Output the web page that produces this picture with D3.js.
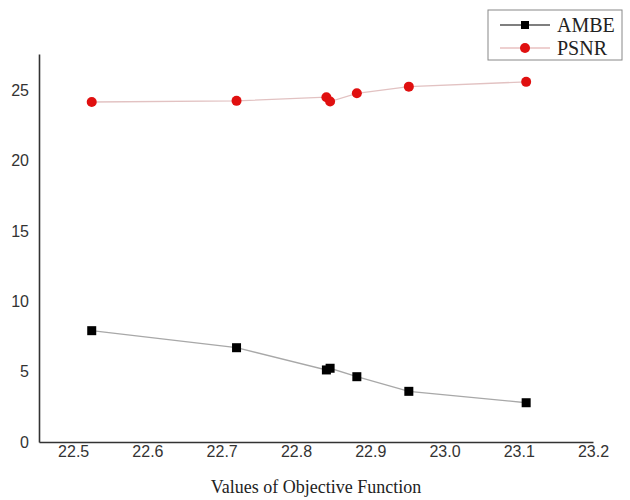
<!DOCTYPE html>
<html>
<head>
<meta charset="utf-8">
<script src="https://cdn.jsdelivr.net/npm/d3@7"></script>
<style>
  html, body { margin: 0; padding: 0; background: #fff; }
  svg { display: block; }
</style>
</head>
<body>
<svg id="chart" width="630" height="500"></svg>
<script>
// Objective function values (x) and the two quality measures
const objective = [22.525, 22.720, 22.841, 22.846, 22.882, 22.952, 23.110];
const ambe      = [7.91, 6.70, 5.12, 5.24, 4.64, 3.60, 2.79];
const psnr      = [24.16, 24.24, 24.50, 24.19, 24.78, 25.25, 25.59];
const xTicks    = [22.5, 22.6, 22.7, 22.8, 22.9, 23.0, 23.1, 23.2];
const yTicks    = [0, 5, 10, 15, 20, 25];
const seriesNames = ["AMBE", "PSNR"];

const svg = d3.select("#chart");
const x = d3.scaleLinear().domain([22.454, 23.2]).range([39, 593]);
const y = d3.scaleLinear().domain([0, 27.57]).range([442, 54]);

// Axes: plain lines, no tick marks
const xAxis = svg.append("g")
  .attr("transform", `translate(0,${y(0)})`)
  .call(d3.axisBottom(x).tickValues(xTicks).tickFormat(d3.format(".1f")).tickSize(0).tickPadding(4));
const yAxis = svg.append("g")
  .attr("transform", `translate(${x.range()[0]},0)`)
  .call(d3.axisLeft(y).tickValues(yTicks).tickSize(0).tickPadding(10));

[xAxis, yAxis].forEach(g => {
  g.select(".domain").attr("stroke", "#333").attr("stroke-width", 1.6);
  g.selectAll("text")
    .attr("fill", "#333")
    .style("font-family", "'Liberation Sans', Arial, sans-serif")
    .style("font-size", "16px");
});

// Axis title
svg.append("text")
  .attr("x", 316).attr("y", 493)
  .attr("text-anchor", "middle")
  .attr("fill", "#222")
  .style("font-family", "'Liberation Serif', 'Times New Roman', serif")
  .style("font-size", "18px")
  .text("Values of Objective Function");

const line = d3.line().x(d => x(d[0])).y(d => y(d[1]));

// AMBE series: grey line with black squares
const ambePts = objective.map((v, i) => [v, ambe[i]]);
svg.append("path").datum(ambePts)
  .attr("d", line).attr("fill", "none")
  .attr("stroke", "#a8a8a8").attr("stroke-width", 1.3);
svg.selectAll(".sq").data(ambePts).enter().append("rect")
  .attr("x", d => x(d[0]) - 4.5).attr("y", d => y(d[1]) - 4.5)
  .attr("width", 9).attr("height", 9).attr("fill", "#000");

// PSNR series: pale red line with red dots
const psnrPts = objective.map((v, i) => [v, psnr[i]]);
svg.append("path").datum(psnrPts)
  .attr("d", line).attr("fill", "none")
  .attr("stroke", "#e2c2c2").attr("stroke-width", 1.3);
svg.selectAll(".dot").data(psnrPts).enter().append("circle")
  .attr("cx", d => x(d[0])).attr("cy", d => y(d[1]))
  .attr("r", 5).attr("fill", "#e01010");

// Legend
const legend = svg.append("g");
legend.append("rect")
  .attr("x", 488).attr("y", 10).attr("width", 134).attr("height", 50)
  .attr("fill", "#fff").attr("stroke", "#888").attr("stroke-width", 1);
const rows = [
  { name: seriesNames[0], y: 25, stroke: "#555", mark: "square" },
  { name: seriesNames[1], y: 48, stroke: "#e8c0c0", mark: "circle" }
];
rows.forEach(r => {
  legend.append("line")
    .attr("x1", 500).attr("x2", 550).attr("y1", r.y).attr("y2", r.y)
    .attr("stroke", r.stroke).attr("stroke-width", 1.3);
  if (r.mark === "square") {
    legend.append("rect").attr("x", 521).attr("y", r.y - 4)
      .attr("width", 8).attr("height", 8).attr("fill", "#000");
  } else {
    legend.append("circle").attr("cx", 525).attr("cy", r.y)
      .attr("r", 5).attr("fill", "#e01010");
  }
  legend.append("text")
    .attr("x", 557).attr("y", r.y + 6.5)
    .attr("fill", "#222")
    .style("font-family", "'Liberation Serif', 'Times New Roman', serif")
    .style("font-size", "20px")
    .text(r.name);
});
</script>
</body>
</html>
